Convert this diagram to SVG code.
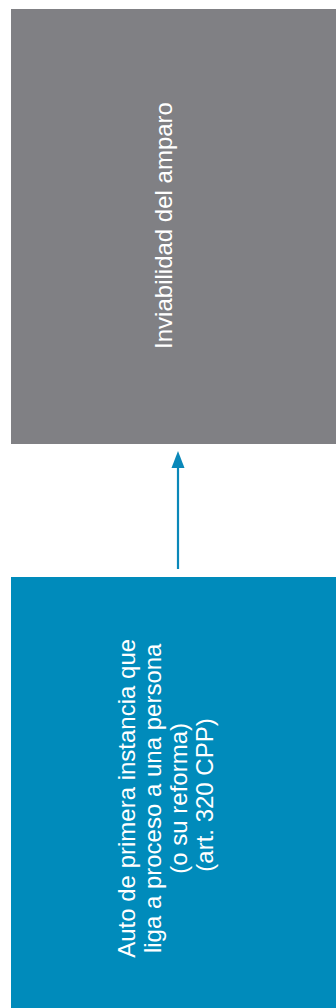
<svg xmlns="http://www.w3.org/2000/svg" width="336" height="1008" viewBox="0 0 336 1008">
<style>
.lbl{font-family:"Liberation Sans",Arial,sans-serif;font-size:24px;fill:#ffffff;text-anchor:middle}
</style>
<defs>
<marker id="ah" markerWidth="13" markerHeight="17" refX="6.5" refY="0" orient="auto-start-reverse" markerUnits="userSpaceOnUse" viewBox="0 0 13 17">
<path d="M0,17 L6.5,0 L13,17 Z" fill="#0a88b9"/>
</marker>
</defs>
<rect width="336" height="1008" fill="#ffffff"/>
<g id="node-inviabilidad">
<rect x="11" y="9" width="325" height="435" fill="#808084"/>
<text class="lbl" transform="translate(0,225.5) rotate(-90)" x="0" y="172">Inviabilidad del amparo</text>
</g>
<g id="node-auto">
<rect x="11" y="577" width="325" height="431" fill="#008bbb"/>
<text class="lbl" transform="translate(0,795) rotate(-90)">
<tspan x="0" y="135">Auto de primera instancia que</tspan>
<tspan x="0" y="161">liga a proceso a una persona</tspan>
<tspan x="0" y="187">(o su reforma)</tspan>
<tspan x="0" y="213">(art. 320 CPP)</tspan>
</text>
</g>
<g id="connectors">
<line x1="178" y1="569" x2="178" y2="466" stroke="#0a88b9" stroke-width="2.2"/>
<path d="M171.5,468 L178,451 L184.5,468 Z" fill="#0a88b9"/>
</g>
</svg>
